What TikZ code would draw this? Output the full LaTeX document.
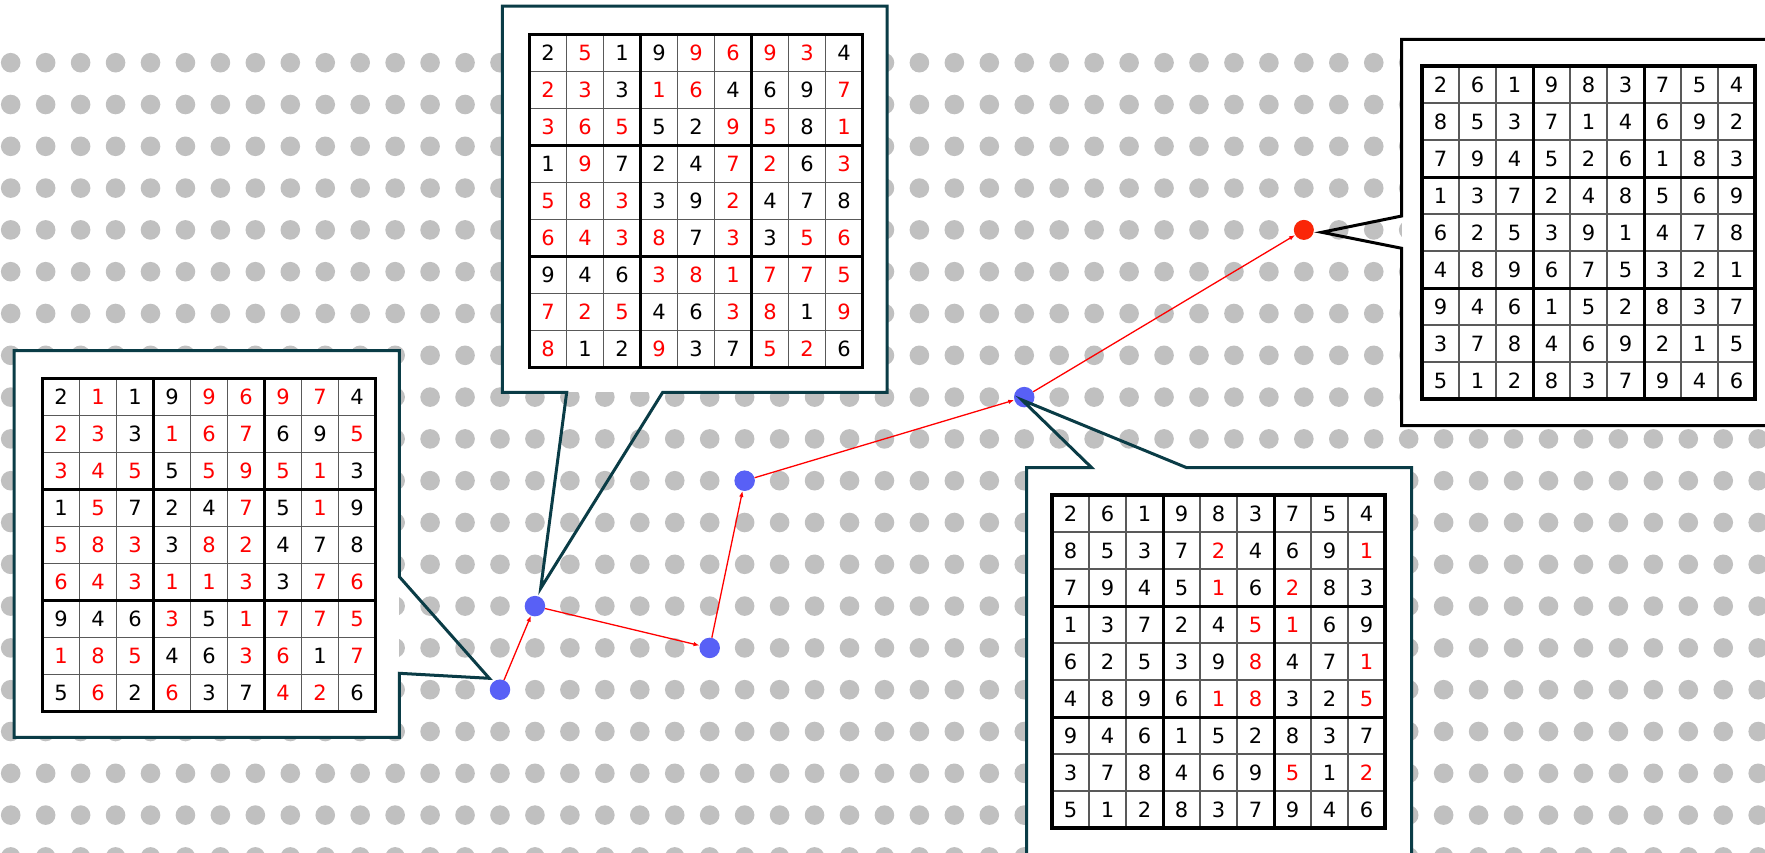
\documentclass[tikz,border=0pt]{standalone}
\usepackage{fontspec}
\setmainfont{DejaVu Sans}
\usetikzlibrary{arrows.meta}

\definecolor{dotgray}{RGB}{192,192,192}
\definecolor{markblue}{RGB}{88,96,246}
\definecolor{goalred}{RGB}{250,38,8}
\definecolor{bubbleteal}{RGB}{10,60,70}
\colorlet{k}{black}
\colorlet{r}{red}

\tikzset{
  digit/.style={inner sep=0pt, font=\fontsize{21}{25}\selectfont},
  marker/.style={circle, fill=markblue, minimum size=20.5pt, inner sep=0pt},
  goal/.style={circle, fill=goalred, minimum size=20pt, inner sep=0pt},
  move/.style={red, line width=1.3pt, -{Latex[length=6pt,width=4.5pt]}},
  bubble/.style={line width=3pt, draw=bubbleteal, line join=miter},
}

\newcommand{\sudokugrid}[3]{%
  \begin{scope}[shift={#2}]
    \foreach \row [count=\r] in {#3} {
      \foreach \val/\tone [count=\q] in \row {
        \node[digit, text=\tone] (#1-\r-\q) at ({(\q-0.5)*37},{(\r-0.5)*37}) {\val};
      }
    }
    \foreach \i in {1,2,4,5,7,8} {
      \draw[line width=1.2pt, black!65] ({\i*37},0) -- ({\i*37},333);
      \draw[line width=1.2pt, black!65] (0,{\i*37}) -- (333,{\i*37});
    }
    \foreach \i in {3,6} {
      \draw[line width=3pt] ({\i*37},0) -- ({\i*37},333);
      \draw[line width=3pt] (0,{\i*37}) -- (333,{\i*37});
    }
    \draw[line width=3.5pt] (0,0) rectangle (333,333);
  \end{scope}}

\begin{document}
\begin{tikzpicture}[x=1pt, y=-1pt]
  \clip (0,0) rectangle (1765,852);
  \fill[white] (0,0) rectangle (1765,852);

  \foreach \i in {0,...,50} {
    \foreach \j in {0,...,19} {
      \fill[dotgray] ({10.7+34.95*\i},{62.7+41.8*\j}) circle[radius=9.8pt];
    }
  }

  \node[marker] (m1) at (500.0,689.7) {};
  \node[marker] (m2) at (534.95,606.1) {};
  \node[marker] (m3) at (709.7,647.9) {};
  \node[marker] (m4) at (744.65,480.7) {};
  \node[marker] (m5) at (1024.25,397.1) {};
  \node[goal] (end) at (1303.85,229.9) {};

  \draw[move] (m1) -- (m2);
  \draw[move] (m2) -- (m3);
  \draw[move] (m3) -- (m4);
  \draw[move] (m4) -- (m5);
  \draw[move] (m5) -- (end);

  \fill[white] (14,350.5) rectangle (399.3,737.3);
  \draw[bubble] (14,350.5) -- (399.3,350.5) -- (399.3,576.7) -- (489.3,678.3)
    -- (399.3,673.3) -- (399.3,737.3) -- (14,737.3) -- cycle;

  \fill[white] (502.3,6) rectangle (887,392.3);
  \draw[bubble] (502.3,6) -- (887,6) -- (887,392.3) -- (662.7,392.3)
    -- (540.7,588.3) -- (566.7,392.3) -- (502.3,392.3) -- cycle;

  \fill[white] (1401.7,39.4) rectangle (1790,425.5);
  \draw[bubble, draw=black] (1401.7,39.4) -- (1790,39.4) -- (1790,425.5)
    -- (1401.7,425.5) -- (1401.7,248.3) -- (1321.7,232.3) -- (1401.7,216) -- cycle;

  \fill[white] (1026.7,467.7) rectangle (1411.7,870);
  \draw[bubble] (1026.7,467.7) -- (1091.7,467.7) -- (1022,400) -- (1186.7,467.7)
    -- (1411.7,467.7) -- (1411.7,870) -- (1026.7,870) -- cycle;

  \sudokugrid{ga}{(42.5,378.5)}{
    {2/k,1/r,1/k,9/k,9/r,6/r,9/r,7/r,4/k},
    {2/r,3/r,3/k,1/r,6/r,7/r,6/k,9/k,5/r},
    {3/r,4/r,5/r,5/k,5/r,9/r,5/r,1/r,3/k},
    {1/k,5/r,7/k,2/k,4/k,7/r,5/k,1/r,9/k},
    {5/r,8/r,3/r,3/k,8/r,2/r,4/k,7/k,8/k},
    {6/r,4/r,3/r,1/r,1/r,3/r,3/k,7/r,6/r},
    {9/k,4/k,6/k,3/r,5/k,1/r,7/r,7/r,5/r},
    {1/r,8/r,5/r,4/k,6/k,3/r,6/r,1/k,7/r},
    {5/k,6/r,2/k,6/r,3/k,7/k,4/r,2/r,6/k}}

  \sudokugrid{gb}{(529.5,34.5)}{
    {2/k,5/r,1/k,9/k,9/r,6/r,9/r,3/r,4/k},
    {2/r,3/r,3/k,1/r,6/r,4/k,6/k,9/k,7/r},
    {3/r,6/r,5/r,5/k,2/k,9/r,5/r,8/k,1/r},
    {1/k,9/r,7/k,2/k,4/k,7/r,2/r,6/k,3/r},
    {5/r,8/r,3/r,3/k,9/k,2/r,4/k,7/k,8/k},
    {6/r,4/r,3/r,8/r,7/k,3/r,3/k,5/r,6/r},
    {9/k,4/k,6/k,3/r,8/r,1/r,7/r,7/r,5/r},
    {7/r,2/r,5/r,4/k,6/k,3/r,8/r,1/k,9/r},
    {8/r,1/k,2/k,9/r,3/k,7/k,5/r,2/r,6/k}}

  \sudokugrid{gc}{(1422,66)}{
    {2/k,6/k,1/k,9/k,8/k,3/k,7/k,5/k,4/k},
    {8/k,5/k,3/k,7/k,1/k,4/k,6/k,9/k,2/k},
    {7/k,9/k,4/k,5/k,2/k,6/k,1/k,8/k,3/k},
    {1/k,3/k,7/k,2/k,4/k,8/k,5/k,6/k,9/k},
    {6/k,2/k,5/k,3/k,9/k,1/k,4/k,7/k,8/k},
    {4/k,8/k,9/k,6/k,7/k,5/k,3/k,2/k,1/k},
    {9/k,4/k,6/k,1/k,5/k,2/k,8/k,3/k,7/k},
    {3/k,7/k,8/k,4/k,6/k,9/k,2/k,1/k,5/k},
    {5/k,1/k,2/k,8/k,3/k,7/k,9/k,4/k,6/k}}

  \sudokugrid{gd}{(1052,495)}{
    {2/k,6/k,1/k,9/k,8/k,3/k,7/k,5/k,4/k},
    {8/k,5/k,3/k,7/k,2/r,4/k,6/k,9/k,1/r},
    {7/k,9/k,4/k,5/k,1/r,6/k,2/r,8/k,3/k},
    {1/k,3/k,7/k,2/k,4/k,5/r,1/r,6/k,9/k},
    {6/k,2/k,5/k,3/k,9/k,8/r,4/k,7/k,1/r},
    {4/k,8/k,9/k,6/k,1/r,8/r,3/k,2/k,5/r},
    {9/k,4/k,6/k,1/k,5/k,2/k,8/k,3/k,7/k},
    {3/k,7/k,8/k,4/k,6/k,9/k,5/r,1/k,2/r},
    {5/k,1/k,2/k,8/k,3/k,7/k,9/k,4/k,6/k}}
\end{tikzpicture}
\end{document}
